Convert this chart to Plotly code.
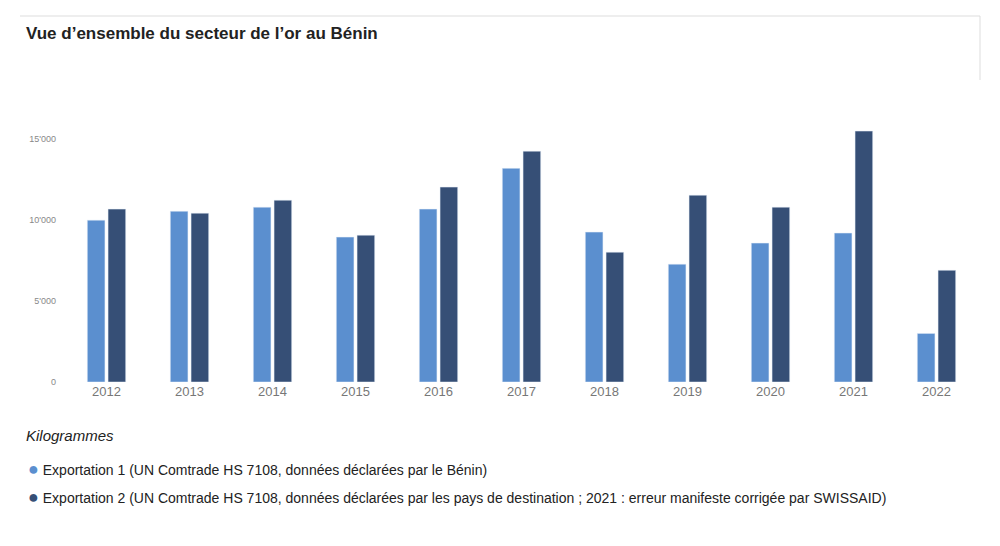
import plotly.graph_objects as go

years = ["2012","2013","2014","2015","2016","2017","2018","2019","2020","2021","2022"]
export1 = [10000,10550,10800,8950,10680,13200,9260,7280,8580,9200,3000]
export2 = [10680,10430,11230,9070,12040,14260,8020,11540,10800,15500,6900]
yticks = [0,5000,10000,15000]
ytext = ["0","5'000","10'000","15'000"]
c1, c2 = "#5b8fcf", "#364f76"

fig = go.Figure()
fig.add_bar(x=years, y=export1, marker_color=c1, showlegend=False)
fig.add_bar(x=years, y=export2, marker_color=c2, showlegend=False)

OFF = 8
L, R, T, B = 65 - OFF, 22 + OFF, 123 - OFF, 164 + OFF
W, H = 1000 - L - R, 546 - T - B
px = lambda x: (x - OFF - L) / W
py = lambda y: (546 - B - (y - OFF)) / H

fig.update_layout(
    width=1000, height=546, margin=dict(l=L, r=R, t=T, b=B),
    paper_bgcolor="white", plot_bgcolor="white",
    barmode="group", bargap=0.5, bargroupgap=0.15,
    font=dict(family="Liberation Sans, Arial", color="#333"),
    xaxis=dict(showgrid=False, showline=False, ticks="", tickfont=dict(size=13, color="#777")),
    yaxis=dict(range=[0, 16000], tickvals=yticks, ticktext=ytext, showgrid=False,
               zeroline=False, tickfont=dict(size=9, color="#888"), ticklabelstandoff=8),
    shapes=[
        dict(type="line", xref="paper", yref="paper", x0=px(20), x1=px(980), y0=py(16), y1=py(16),
             line=dict(color="#ddd", width=1)),
        dict(type="line", xref="paper", yref="paper", x0=px(980), x1=px(980), y0=py(16), y1=py(80),
             line=dict(color="#ddd", width=1)),
    ],
    annotations=[
        dict(text="<b>Vue d’ensemble du secteur de l’or au Bénin</b>", xref="paper", yref="paper",
             x=px(24), y=py(33), xanchor="left", yanchor="middle", showarrow=False,
             font=dict(size=17, color="#222")),
        dict(text="<i>Kilogrammes</i>", xref="paper", yref="paper", x=px(24), y=py(435),
             xanchor="left", yanchor="middle", showarrow=False, font=dict(size=15, color="#222")),
        dict(text=f"<span style='color:{c1};font-size:18px'>●</span> Exportation 1 (UN Comtrade HS 7108, données déclarées par le Bénin)",
             xref="paper", yref="paper", x=px(26), y=py(469), xanchor="left", yanchor="middle",
             showarrow=False, font=dict(size=14, color="#222")),
        dict(text=f"<span style='color:{c2};font-size:18px'>●</span> Exportation 2 (UN Comtrade HS 7108, données déclarées par les pays de destination ; 2021 : erreur manifeste corrigée par SWISSAID)",
             xref="paper", yref="paper", x=px(26), y=py(497), xanchor="left", yanchor="middle",
             showarrow=False, font=dict(size=14, color="#222")),
    ],
)
fig.write_html("out.html")
